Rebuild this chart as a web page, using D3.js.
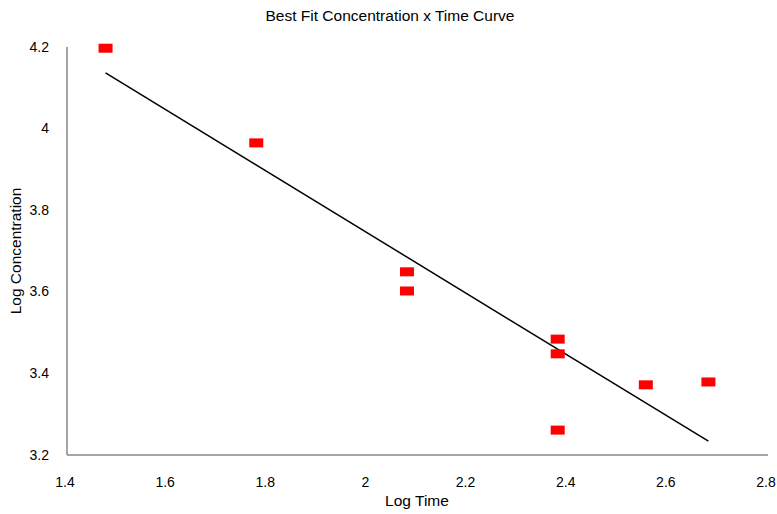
<!DOCTYPE html>
<html><head><meta charset="utf-8">
<script src="https://cdn.jsdelivr.net/npm/d3@7"></script>
<style>body{margin:0;background:#fff}svg{display:block;font-family:"Liberation Sans",Arial,sans-serif}</style>
</head><body>
<svg id="c" width="777" height="514"></svg>
<script>
const logTime = [1.477, 1.778, 2.079, 2.079, 2.380, 2.380, 2.380, 2.556, 2.681];
const logConc = [4.197, 3.965, 3.649, 3.602, 3.484, 3.448, 3.261, 3.372, 3.379];
const xTicks = [1.4, 1.6, 1.8, 2, 2.2, 2.4, 2.6, 2.8];
const yTicks = [3.2, 3.4, 3.6, 3.8, 4, 4.2];

const svg = d3.select("#c");
const x = d3.scaleLinear().domain([1.4, 2.8]).range([67, 768]);
const y = d3.scaleLinear().domain([3.2, 4.2]).range([455, 47]);

// regression
const n = logTime.length;
const mx = d3.mean(logTime), my = d3.mean(logConc);
let sxy = 0, sxx = 0;
for (let i = 0; i < n; i++) { sxy += (logTime[i]-mx)*(logConc[i]-my); sxx += (logTime[i]-mx)**2; }
const slope = sxy/sxx, inter = my - slope*mx;
const x0 = d3.min(logTime), x1 = d3.max(logTime);

// axes
svg.append("line").attr("x1", x(1.4)).attr("x2", x(1.4)).attr("y1", y(4.2)).attr("y2", y(3.2))
  .attr("stroke", "#898989").attr("stroke-width", 1.5);
svg.append("line").attr("x1", x(1.4)).attr("x2", x(2.8)).attr("y1", y(3.2)).attr("y2", y(3.2))
  .attr("stroke", "#898989").attr("stroke-width", 1.5);

svg.selectAll(".xt").data(xTicks).enter().append("text")
  .attr("x", d => x(d) - 2).attr("y", 487).attr("text-anchor", "middle")
  .attr("font-size", 14).attr("fill", "#000").text(d => d);
svg.selectAll(".yt").data(yTicks).enter().append("text")
  .attr("x", 49).attr("y", d => y(d) + 4.5).attr("text-anchor", "end")
  .attr("font-size", 14).attr("fill", "#000").text(d => d);

// fit line
svg.append("line").attr("x1", x(x0)).attr("y1", y(inter + slope*x0))
  .attr("x2", x(x1)).attr("y2", y(inter + slope*x1))
  .attr("stroke", "#000").attr("stroke-width", 1.5);

// markers
svg.selectAll(".pt").data(logTime).enter().append("rect")
  .attr("x", (d) => x(d) - 7).attr("y", (d, i) => y(logConc[i]) - 4.5)
  .attr("width", 14).attr("height", 9).attr("fill", "#ff0000");

svg.append("text").attr("x", 390).attr("y", 21).attr("text-anchor", "middle")
  .attr("font-size", 15.5).text("Best Fit Concentration x Time Curve");
svg.append("text").attr("x", 417).attr("y", 506).attr("text-anchor", "middle")
  .attr("font-size", 15.5).text("Log Time");
svg.append("text").attr("transform", "translate(21,251) rotate(-90)").attr("text-anchor", "middle")
  .attr("font-size", 15.5).text("Log Concentration");
</script>
</body></html>
